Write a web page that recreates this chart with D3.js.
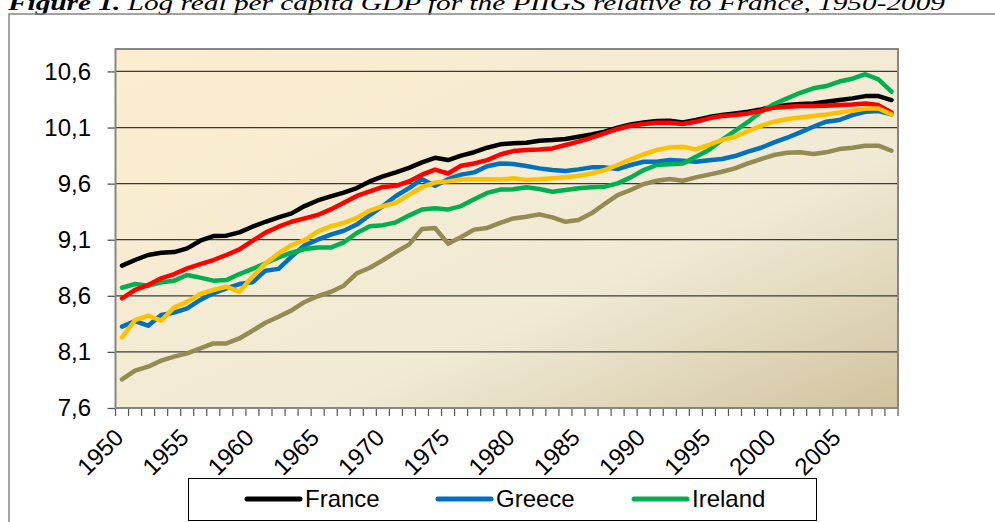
<!DOCTYPE html>
<html><head><meta charset="utf-8">
<script src="https://cdn.jsdelivr.net/npm/d3@7"></script>
<style>
html,body{margin:0;padding:0;background:#fff;}
svg{display:block;}
</style></head>
<body>
<svg id="chart" width="995" height="522"></svg>
<script>
const years = d3.range(1950, 2010);
const yTicks = [7.6, 8.1, 8.6, 9.1, 9.6, 10.1, 10.6];
const xLabelYears = [1950,1955,1960,1965,1970,1975,1980,1985,1990,1995,2000,2005];
const seriesNames = ["France","Greece","Ireland","Italy","Portugal","Spain"];
const legendNames = ["France","Greece","Ireland"];

const france = [8.869,8.919,8.964,8.984,8.99,9.023,9.091,9.133,9.136,9.166,9.216,9.26,9.30,9.335,9.40,9.45,9.487,9.52,9.56,9.62,9.665,9.70,9.74,9.79,9.83,9.81,9.85,9.88,9.92,9.95,9.96,9.965,9.983,9.989,9.998,10.018,10.039,10.063,10.098,10.128,10.146,10.158,10.161,10.146,10.167,10.193,10.211,10.226,10.241,10.262,10.286,10.30,10.31,10.315,10.33,10.345,10.36,10.38,10.38,10.345];
const greece = [8.325,8.375,8.334,8.429,8.45,8.488,8.563,8.622,8.667,8.705,8.72,8.824,8.84,8.95,9.05,9.10,9.145,9.18,9.235,9.32,9.40,9.49,9.56,9.64,9.58,9.64,9.68,9.70,9.755,9.78,9.775,9.757,9.736,9.721,9.712,9.727,9.745,9.745,9.73,9.766,9.795,9.795,9.81,9.804,9.795,9.808,9.819,9.846,9.885,9.92,9.968,10.009,10.057,10.107,10.152,10.167,10.211,10.241,10.247,10.217];
const ireland = [8.672,8.705,8.69,8.72,8.735,8.785,8.762,8.735,8.74,8.794,8.84,8.89,8.943,8.984,9.017,9.03,9.03,9.077,9.16,9.22,9.23,9.255,9.315,9.37,9.38,9.37,9.40,9.46,9.517,9.547,9.549,9.567,9.552,9.528,9.543,9.558,9.567,9.573,9.602,9.656,9.721,9.766,9.772,9.78,9.84,9.90,9.99,10.07,10.15,10.24,10.31,10.36,10.41,10.45,10.47,10.51,10.535,10.575,10.53,10.42];
const italy = [8.577,8.652,8.696,8.756,8.794,8.845,8.883,8.919,8.964,9.014,9.09,9.163,9.216,9.26,9.29,9.32,9.37,9.43,9.49,9.53,9.57,9.58,9.62,9.68,9.725,9.69,9.76,9.78,9.81,9.86,9.89,9.90,9.905,9.914,9.944,9.974,10.009,10.048,10.087,10.116,10.131,10.143,10.143,10.131,10.152,10.182,10.203,10.211,10.226,10.25,10.277,10.286,10.292,10.292,10.295,10.30,10.306,10.315,10.30,10.235];
const portugal = [7.855,7.933,7.968,8.022,8.058,8.087,8.132,8.176,8.176,8.22,8.289,8.36,8.414,8.47,8.545,8.596,8.634,8.69,8.80,8.85,8.917,8.99,9.056,9.196,9.205,9.065,9.125,9.19,9.205,9.25,9.29,9.305,9.326,9.299,9.26,9.275,9.335,9.418,9.498,9.543,9.596,9.626,9.641,9.626,9.656,9.68,9.706,9.736,9.78,9.819,9.855,9.876,9.879,9.864,9.879,9.908,9.92,9.938,9.938,9.893];
const spain = [8.23,8.384,8.423,8.378,8.497,8.548,8.616,8.652,8.681,8.637,8.77,8.889,8.978,9.053,9.097,9.175,9.22,9.25,9.294,9.36,9.40,9.43,9.50,9.57,9.61,9.62,9.636,9.64,9.64,9.636,9.647,9.632,9.638,9.647,9.656,9.671,9.691,9.721,9.766,9.816,9.861,9.90,9.923,9.929,9.905,9.945,9.989,10.018,10.069,10.116,10.152,10.176,10.19,10.203,10.217,10.235,10.25,10.27,10.27,10.217];

const seriesValues = [france, greece, ireland, italy, portugal, spain];
const colors = ["#000000","#0070C0","#00B050","#FF0000","#948A54","#FFC000"];

const svg = d3.select("#chart");
const plot = {left:115.5, right:898, top:49, bottom:408};

const x = d3.scaleBand().domain(years).range([plot.left, plot.right]).padding(0);
const y = d3.scaleLinear().domain([7.6, 10.8]).range([plot.bottom, plot.top]);
const fmt = d3.formatLocale({decimal:",", thousands:".", grouping:[3], currency:["",""]}).format(".1f");

// Title
const title = svg.append("text")
  .attr("x", 8).attr("y", 9.5)
  .attr("font-family", "'Liberation Serif', 'Times New Roman', serif")
  .attr("font-size", 21).attr("font-style", "italic")
  .attr("textLength", 937).attr("lengthAdjust", "spacingAndGlyphs");
title.append("tspan").attr("font-weight", "bold").text("Figure 1.");
title.append("tspan").text(" Log real per capita GDP for the PIIGS relative to France, 1950-2009");

// outer frame
svg.append("rect").attr("x", 9).attr("y", 14).attr("width", 1000).attr("height", 520)
  .attr("fill", "none").attr("stroke", "#858585").attr("stroke-width", 1.5);

// gradient
const defs = svg.append("defs");
const grad = defs.append("linearGradient").attr("id", "parch")
  .attr("x1", 0).attr("y1", 0).attr("x2", 1).attr("y2", 1);
grad.append("stop").attr("offset", "0%").attr("stop-color", "#FDEDCF");
grad.append("stop").attr("offset", "64%").attr("stop-color", "#F0EAD5");
grad.append("stop").attr("offset", "100%").attr("stop-color", "#D1C39F");

svg.append("rect").attr("x", plot.left).attr("y", plot.top)
  .attr("width", plot.right - plot.left).attr("height", plot.bottom - plot.top)
  .attr("fill", "url(#parch)");

// gridlines
svg.append("g").selectAll("line").data(yTicks.slice(1)).join("line")
  .attr("x1", plot.left).attr("x2", plot.right)
  .attr("y1", d => y(d)).attr("y2", d => y(d))
  .attr("stroke", "#3a3a3a").attr("stroke-width", 1.3);

// y axis
const yAxis = svg.append("g").attr("transform", `translate(${plot.left},0)`)
  .call(d3.axisLeft(y).tickValues(yTicks).tickSize(8).tickPadding(16.5).tickFormat(fmt));
yAxis.select(".domain").remove();
yAxis.selectAll(".tick line").attr("stroke", "#555").attr("stroke-width", 1.3);
yAxis.selectAll(".tick text").attr("font-family", "'Liberation Sans', Arial, sans-serif")
  .attr("font-size", 24).attr("fill", "#000");

// x ticks at category boundaries
const bounds = years.map(yr => x(yr)).concat([plot.right]);
svg.append("g").selectAll("line").data(bounds).join("line")
  .attr("x1", d => d).attr("x2", d => d)
  .attr("y1", plot.bottom).attr("y2", plot.bottom + 8)
  .attr("stroke", "#555").attr("stroke-width", 1.2);

// x labels
svg.append("g").selectAll("text").data(xLabelYears).join("text")
  .attr("transform", d => `translate(${x(d) + x.bandwidth()/2 + 3},${439}) rotate(-45)`)
  .attr("text-anchor", "end")
  .attr("font-family", "'Liberation Sans', Arial, sans-serif")
  .attr("font-size", 24).attr("fill", "#000")
  .text(d => d);

// series
const line = d3.line().x((d, i) => x(years[i]) + x.bandwidth()/2).y(d => y(d));
svg.append("g").selectAll("path").data(seriesValues).join("path")
  .attr("d", d => line(d))
  .attr("fill", "none")
  .attr("stroke", (d, i) => colors[i])
  .attr("stroke-width", 4.5)
  .attr("stroke-linejoin", "round")
  .attr("stroke-linecap", "round");

// plot frame
svg.append("rect").attr("x", plot.left).attr("y", plot.top)
  .attr("width", plot.right - plot.left).attr("height", plot.bottom - plot.top)
  .attr("fill", "none").attr("stroke", "#868686").attr("stroke-width", 2);

// legend
const legend = svg.append("g");
legend.append("rect").attr("x", 188.5).attr("y", 478.5).attr("width", 628).attr("height", 42)
  .attr("fill", "#fff").attr("stroke", "#000").attr("stroke-width", 1);
const legX = [247, 438, 634];
legendNames.forEach((name, i) => {
  legend.append("line").attr("x1", legX[i]).attr("x2", legX[i] + 53)
    .attr("y1", 499).attr("y2", 499)
    .attr("stroke", colors[i]).attr("stroke-width", 5).attr("stroke-linecap", "round");
  legend.append("text").attr("x", legX[i] + 58).attr("y", 507)
    .attr("font-family", "'Liberation Sans', Arial, sans-serif")
    .attr("font-size", 24).attr("fill", "#000").text(name);
});
</script>
</body></html>
